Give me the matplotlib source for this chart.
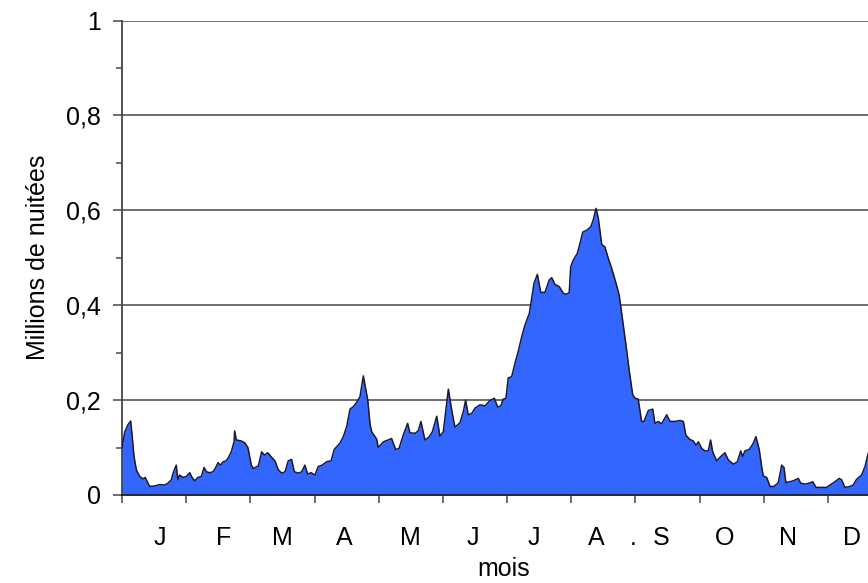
import numpy as np
import matplotlib
matplotlib.use('Agg')
import matplotlib.pyplot as plt

# jour de l'annee (0 = 1er janvier) et millions de nuitees
days = [0.0, 1.3, 2.8, 4.1, 4.7, 5.7, 6.8, 8.4, 10.0, 11.0, 12.3, 13.1, 15.5, 17.9, 20.2, 21.8,
        23.4, 24.2, 25.7, 26.5, 27.3, 28.9, 30.5, 32.1, 33.2, 34.5, 36.0, 37.6, 38.9, 40.0, 41.6,
        43.1, 44.2, 45.5, 46.8, 47.9, 49.4, 50.2, 51.8, 53.1, 53.4, 54.2, 56.5, 58.2, 59.7, 61.3,
        62.2, 64.6, 66.2, 67.5, 69.1, 71.0, 72.5, 74.1, 75.7, 77.3, 78.8, 80.4, 81.7, 83.6, 85.2,
        86.7, 88.0, 89.6, 91.5, 93.0, 94.9, 97.0, 99.1, 100.6, 101.8, 103.3, 104.9, 106.5, 108.1,
        109.6, 111.2, 112.8, 114.4, 116.5, 117.6, 118.4, 120.7, 121.5, 123.9, 126.2, 127.8, 129.7,
        131.3, 133.3, 135.4, 136.5, 138.9, 140.4, 141.7, 143.6, 145.5, 147.1, 149.2, 150.7, 152.3,
        154.7, 156.3, 157.8, 160.2, 161.8, 162.9, 164.1, 165.8, 167.3, 169.7, 172.1, 174.4, 176.5,
        178.1, 179.6, 180.7, 182.0, 183.1, 184.7, 186.3, 187.8, 189.5, 191.0, 193.1, 194.2, 195.3,
        196.9, 198.5, 200.5, 202.5, 203.7, 205.2, 207.3, 209.2, 210.8, 212.0, 212.7, 213.9, 215.8,
        217.1, 218.4, 220.3, 222.2, 223.4, 224.7, 225.8, 227.4, 228.9, 230.5, 232.1, 234.2, 235.7,
        237.3, 238.9, 240.5, 242.1, 243.2, 244.7, 246.3, 247.4, 249.5, 251.6, 252.6, 254.2, 255.8,
        258.2, 259.8, 262.1, 264.5, 266.1, 267.3, 269.2, 270.8, 272.1, 273.2, 274.8, 276.3, 277.9,
        279.0, 280.0, 281.9, 283.8, 285.8, 287.4, 289.8, 291.7, 293.3, 294.2, 295.3, 297.3, 299.0,
        300.5, 302.1, 303.2, 304.0, 305.6, 307.2, 309.0, 311.1, 312.7, 313.8, 314.7, 316.6, 318.2,
        320.6, 321.7, 323.7, 325.8, 327.4, 329.0, 331.7, 334.0, 335.6, 338.0, 340.0, 341.1, 342.7,
        345.1, 346.6, 348.2, 350.6, 352.2, 353.5, 354.6]

nuitees = [0.100, 0.133, 0.148, 0.156, 0.130, 0.081, 0.053, 0.039, 0.034, 0.037, 0.025, 0.018,
           0.019, 0.022, 0.021, 0.025, 0.032, 0.046, 0.063, 0.032, 0.042, 0.037, 0.039, 0.047,
           0.037, 0.030, 0.037, 0.039, 0.058, 0.049, 0.047, 0.049, 0.056, 0.068, 0.063, 0.070,
           0.072, 0.077, 0.091, 0.112, 0.135, 0.116, 0.114, 0.110, 0.100, 0.063, 0.056, 0.061,
           0.091, 0.084, 0.089, 0.079, 0.072, 0.053, 0.046, 0.049, 0.072, 0.075, 0.049, 0.046,
           0.049, 0.063, 0.044, 0.047, 0.042, 0.060, 0.063, 0.070, 0.072, 0.096, 0.102, 0.109,
           0.123, 0.144, 0.181, 0.186, 0.195, 0.207, 0.251, 0.200, 0.148, 0.133, 0.118, 0.100,
           0.112, 0.116, 0.119, 0.096, 0.098, 0.126, 0.151, 0.131, 0.130, 0.135, 0.155, 0.116,
           0.122, 0.133, 0.166, 0.124, 0.133, 0.223, 0.179, 0.143, 0.152, 0.176, 0.200, 0.169,
           0.172, 0.183, 0.190, 0.188, 0.199, 0.204, 0.185, 0.188, 0.202, 0.204, 0.247, 0.249,
           0.278, 0.302, 0.334, 0.358, 0.383, 0.415, 0.446, 0.465, 0.427, 0.427, 0.453, 0.458,
           0.444, 0.439, 0.425, 0.423, 0.427, 0.481, 0.495, 0.509, 0.530, 0.554, 0.558, 0.565,
           0.580, 0.604, 0.583, 0.528, 0.523, 0.499, 0.478, 0.446, 0.421, 0.369, 0.316, 0.260,
           0.211, 0.204, 0.202, 0.155, 0.155, 0.178, 0.181, 0.151, 0.155, 0.150, 0.169, 0.155,
           0.155, 0.157, 0.155, 0.126, 0.117, 0.114, 0.105, 0.112, 0.098, 0.093, 0.093, 0.116,
           0.091, 0.072, 0.081, 0.089, 0.074, 0.065, 0.070, 0.093, 0.081, 0.093, 0.096, 0.107,
           0.123, 0.095, 0.060, 0.040, 0.037, 0.018, 0.018, 0.026, 0.063, 0.058, 0.026, 0.028,
           0.030, 0.035, 0.025, 0.023, 0.025, 0.028, 0.016, 0.016, 0.016, 0.021, 0.028, 0.035,
           0.032, 0.016, 0.018, 0.021, 0.033, 0.042, 0.060, 0.084, 0.100]

month_labels = ['J', 'F', 'M', 'A', 'M', 'J', 'J', 'A', '.', 'S', 'O', 'N', 'D']
label_pos = [17.7, 48.0, 76.2, 105.4, 136.5, 166.2, 195.0, 225.0, 242.4, 255.8, 285.5, 315.8, 345.9]
y_ticks = [0, 0.2, 0.4, 0.6, 0.8, 1.0]
y_labels = ['0', '0,2', '0,4', '0,6', '0,8', '1']

plt.rcParams['font.family'] = ['Liberation Sans', 'DejaVu Sans']
plt.rcParams['font.size'] = 18

fig = plt.figure(figsize=(8.68, 5.83), dpi=100)
# l'axe depasse a droite : le graphique d'origine est coupe
ax = fig.add_axes([122/868, 88/583, 770/868, 474.5/583])

ax.fill_between(days, nuitees, 0, color='#3366ff', lw=0, zorder=2)
ax.plot(days, nuitees, color='#1a1a2e', lw=1.1, zorder=3)

ax.set_xlim(0, 365)
ax.set_ylim(0, 1)

ax.set_xticks(np.arange(13) * 365 / 12)
ax.set_xticklabels([])
ax.set_xticks(label_pos, minor=True)
ax.set_xticklabels(month_labels, minor=True)
ax.tick_params(axis='x', which='major', direction='out', length=6, width=1.2, color='#555555')
ax.tick_params(axis='x', which='minor', length=0, pad=22)

ax.set_yticks(y_ticks)
ax.set_yticklabels(y_labels)
ax.set_yticks(np.arange(0.1, 1.0, 0.2), minor=True)
ax.tick_params(axis='y', which='major', direction='out', length=6.3, width=1.2, color='#555555', pad=9)
ax.tick_params(axis='y', which='minor', direction='out', length=4.3, width=1.2, color='#555555')

ax.yaxis.grid(True, color='#555555', lw=1.2)
ax.set_axisbelow(True)

for s in ['top', 'right']:
    ax.spines[s].set_visible(False)
ax.spines['left'].set_color('#444444')
ax.spines['left'].set_linewidth(1.3)
ax.spines['bottom'].set_color('#222222')
ax.spines['bottom'].set_linewidth(1.3)

ax.set_ylabel('Millions de nuitées')
ax.yaxis.set_label_coords(-0.0935, 0.5)
ax.set_xlabel('mois')
ax.xaxis.set_label_coords(0.495, -0.13)

fig.savefig('out.png', dpi=100)
